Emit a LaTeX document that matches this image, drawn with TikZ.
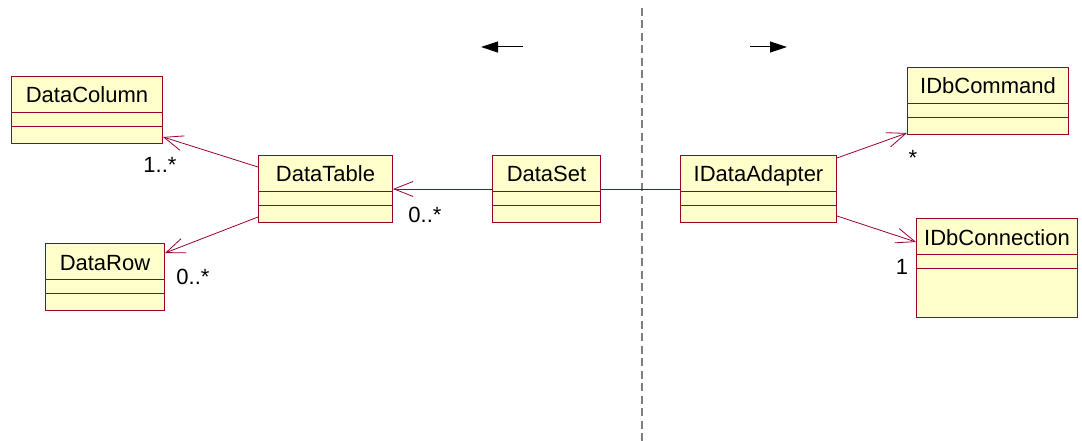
\documentclass[tikz,border=0pt]{standalone}
\usepackage{fontspec}
\setmainfont{Liberation Sans}
\usetikzlibrary{arrows.meta,calc}

\definecolor{umlred}{RGB}{153,0,51}
\definecolor{umlfill}{RGB}{255,255,204}

\tikzset{
  classbox/.style={draw=umlred, fill=umlfill, line width=1pt, inner sep=0pt, anchor=north west},
  classname/.style={anchor=base, inner sep=0pt, font=\fontsize{22}{25}\selectfont},
  compline/.style={draw=umlred, line width=0.8pt},
  assoc/.style={draw=umlred, line width=0.8pt, -{Straight Barb[length=19pt,width=15pt]}},
  link/.style={draw=umlred, line width=0.8pt},
  mult/.style={inner sep=0pt, font=\fontsize{22}{25}\selectfont},
  sidearrow/.style={line width=1pt, -{Triangle[length=17pt,width=11pt]}},
}

% class box: id, name, left, top, width, height
\newcommand{\umlclass}[6]{%
  \node[classbox, minimum width=#5, minimum height=#6] (#1) at (#3,#4) {};
  \node[classname] (#1-name) at ($(#1.north)+(0,27)$) {#2};
  \draw[compline] ($(#1.north west)+(0,36)$) -- ($(#1.north east)+(0,36)$);
  \draw[compline] ($(#1.north west)+(0,50)$) -- ($(#1.north east)+(0,50)$);
}

\begin{document}
\begin{tikzpicture}[x=1pt, y=-1pt]
  \useasboundingbox (0,0) rectangle (1082,441);

  % dashed divider
  \coordinate (divtop) at (642,8);
  \coordinate (divbot) at (642,441);
  \draw[gray, line width=2pt, dash pattern=on 8pt off 4.5pt] (divtop) -- (divbot);

  % direction arrows above the divider
  \coordinate (leftfrom) at (523,47);
  \coordinate (leftto) at (481,47);
  \coordinate (rightfrom) at (750,47);
  \coordinate (rightto) at (787,47);
  \draw[sidearrow] (leftfrom) -- (leftto);
  \draw[sidearrow] (rightfrom) -- (rightto);

  % classes
  \umlclass{datacolumn}{DataColumn}{11}{76}{151}{67}
  \umlclass{datatable}{DataTable}{258}{155}{134}{67}
  \umlclass{datarow}{DataRow}{45}{243}{119}{67}
  \umlclass{dataset}{DataSet}{492}{155}{108}{67}
  \umlclass{dataadapter}{IDataAdapter}{680}{155}{156}{67}
  \umlclass{dbcommand}{IDbCommand}{907}{67}{161}{67}
  \umlclass{dbconnection}{IDbConnection}{916}{218}{161}{99}

  % associations
  \draw[assoc] ([yshift=-12pt]datatable.north west) -- ([yshift=7pt]datacolumn.south east);
  \draw[assoc] ([yshift=6pt]datatable.south west) -- ([yshift=-10pt]datarow.north east);
  \draw[assoc] (dataset.west) -- (datatable.east);
  \draw[link] (dataset.east) -- (dataadapter.west);
  \draw[assoc] ([yshift=-3pt]dataadapter.north east) -- ([yshift=2pt]dbcommand.south west);
  \draw[assoc] ([yshift=7pt]dataadapter.south east) -- ([yshift=-24pt]dbconnection.north west);

  % multiplicities
  \node[mult] (colmult) at (160,165) {1..*};
  \node[mult] (rowmult) at (193,277) {0..*};
  \node[mult] (tablemult) at (425,215) {0..*};
  \node[mult] (cmdmult) at (913,158) {*};
  \node[mult] (connmult) at (902,267) {1};
\end{tikzpicture}
\end{document}
